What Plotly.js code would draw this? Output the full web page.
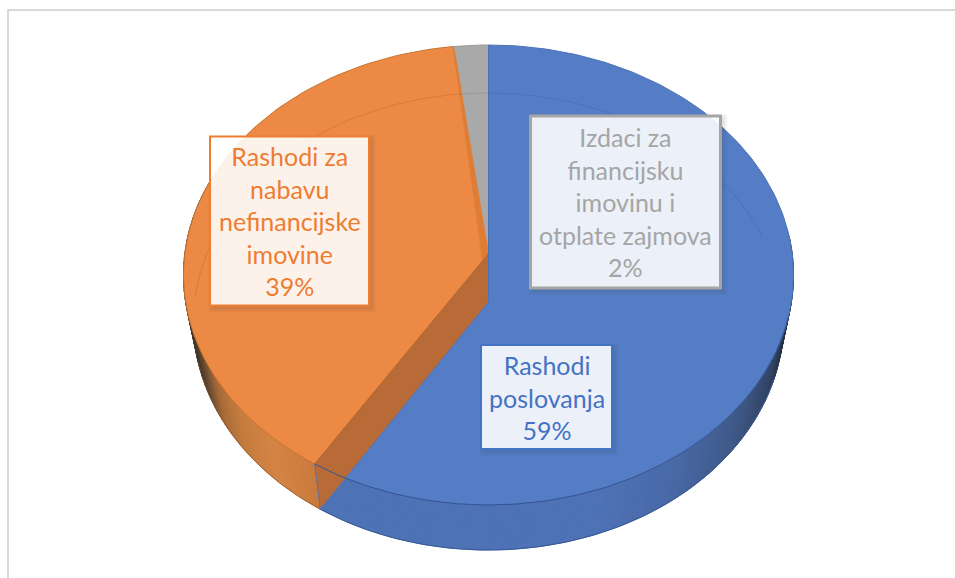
<!DOCTYPE html>
<html><head><meta charset="utf-8">
<script src="https://cdn.plot.ly/plotly-3.0.1.min.js"></script>
<style>html,body{margin:0;padding:0;background:#fff}#chart{width:955px;height:578px}</style>
</head><body><div id="chart"></div>
<script>
const categories = ["Rashodi poslovanja", "Rashodi za nabavu nefinancijske imovine", "Izdaci za financijsku imovinu i otplate zajmova"];
const values = [59, 39, 2];
const labelLines = [["Rashodi","poslovanja"],["Rashodi za","nabavu","nefinancijske","imovine"],["Izdaci za","financijsku","imovinu i","otplate zajmova"]];
const sliceColors = ["#547DC6","#EC8A45","#A9A9A9"];
const textColors = ["#4472C4","#ED7D31","#A5A5A5"];
const labelCentres = [[546.5,397],[289.5,221],[625.5,202]];
const labelSizes = [[131,104],[159,169],[190,172]];

const total = values.reduce((a,b)=>a+b,0);
const blueEnd = values[0]/total*2*Math.PI;
const orangeEnd = (values[0]+values[1])/total*2*Math.PI;
const CX=488.5, TOPY=275, RX=305, RY=230, BOTY=321.5, BRX=295, BRY=228.5, A=-0.074;
function proj(t){ // perspective view of a point on the rim, clockwise from 12 o'clock
  const u=Math.sin(t), v=-Math.cos(t), d=1+A*v;
  return [u*Math.sqrt(1-A*A)/d,(v+A)/d];
}
const top_=t=>{const p=proj(t);return [CX+RX*p[0],TOPY+RY*p[1]];};
const bot=t=>{const p=proj(t);return [CX+BRX*p[0],BOTY+BRY*p[1]];};
const span=(a,b,n)=>Array.from({length:n+1},(_,i)=>a+(b-a)*i/n);
const apex=[CX,258];
const apexLow=[CX,302];
const blueFoot=bot(blueEnd);
function side(p){
  return (blueFoot[0]-apexLow[0])*(p[1]-apexLow[1])-(blueFoot[1]-apexLow[1])*(p[0]-apexLow[0]);
}
// where the top rim crosses the lower edge of the radial wall
let lo=Math.PI, hi=blueEnd;
const sLo=side(top_(lo));
for(let i=0;i<40;i++){const m=(lo+hi)/2; if(side(top_(m))*sLo>0) lo=m; else hi=m;}
const tCut=lo;
const traces=[];
function poly(pts,fill,line,lw){
  traces.push({type:"scatter",mode:"lines",x:pts.map(p=>p[0]),y:pts.map(p=>p[1]),fill:"toself",fillcolor:fill,
    line:{color:line||fill,width:lw===undefined?1:lw},hoverinfo:"skip",showlegend:false});
}
function stroke(pts,color,w){
  traces.push({type:"scatter",mode:"lines",x:pts.map(p=>p[0]),y:pts.map(p=>p[1]),line:{color:color,width:w},hoverinfo:"skip",showlegend:false});
}
function colour(stops,x){
  if(x<=stops[0][0])return "rgb("+stops[0][1].join(",")+")";
  for(let i=1;i<stops.length;i++){ if(x<=stops[i][0]){
    const f=(x-stops[i-1][0])/(stops[i][0]-stops[i-1][0]);
    return "rgb("+stops[i-1][1].map((v,k)=>Math.round(v+(stops[i][1][k]-v)*f)).join(",")+")"; } }
  return "rgb("+stops[stops.length-1][1].join(",")+")";
}
const orangeRamp=[[192,[70,55,40]],[203,[110,78,50]],[215,[165,105,55]],[235,[195,122,62]],[270,[212,132,68]],[300,[205,125,62]],[320,[198,120,60]]];
const blueRamp=[[320,[78,114,182]],[600,[78,114,182]],[680,[72,104,165]],[740,[62,88,135]],[775,[50,68,100]],[790,[38,50,72]]];

// orange outer wall
const ow=span(blueEnd,1.62*Math.PI,70);
for(let i=0;i<ow.length-1;i++){
  const a=ow[i],b=ow[i+1];
  poly([top_(a),top_(b),bot(b),bot(a),top_(a)],colour(orangeRamp,(top_(a)[0]+top_(b)[0])/2));
}
// orange top face
poly([apex].concat(span(blueEnd,orangeEnd,80).map(top_),[apex]),sliceColors[1],"#C8732F",1);
// grey top face
poly([apex].concat(span(orangeEnd,2*Math.PI,10).map(top_),[apex]),sliceColors[2],"#9A9A9A",1);
// radial strip of the orange slice next to the grey slice
const ot=top_(orangeEnd);
poly([ot,[ot[0]+2,ot[1]+6],[CX,253],[CX-6,261],ot],"#E07D35","#E07D35",0.5);
// radial wall of the orange slice
const ofoot=top_(blueEnd);
poly([[CX,253],[CX-6,261],ofoot,blueFoot,apexLow,[CX,253]],"#B96B37");
stroke([ofoot,blueFoot],"#66709A",1);
stroke([[CX-6,261],ofoot],"#B8692F",1);
// blue wall
const cut=top_(tCut);
poly([cut].concat(span(tCut,blueEnd,10).map(bot),[cut]),colour(blueRamp,330));
const bw=span(tCut,0.47*Math.PI,150);
for(let i=0;i<bw.length-1;i++){
  const a=bw[i],b=bw[i+1];
  poly([top_(a),top_(b),bot(b),bot(a),top_(a)],colour(blueRamp,(top_(a)[0]+top_(b)[0])/2));
}
// blue top face
const blueArc=span(0,tCut,200).map(top_);
poly(blueArc.concat([apexLow,blueArc[0]]),sliceColors[0],"#4A72B8",1);
// rim lines
stroke(span(blueEnd,0.58*Math.PI,120).map(top_),"#35558F",1);
stroke(span(blueEnd,0.60*Math.PI,120).map(bot),"#3A5A95",1);
stroke(span(blueEnd,1.42*Math.PI,60).map(bot),"rgba(130,80,40,0.6)",1);
// base ellipse seen through the top face
stroke(span(0,0.40*Math.PI,60).map(bot),"rgba(50,70,130,0.22)",1);
stroke(span(1.51*Math.PI,orangeEnd,70).map(bot),"rgba(190,95,35,0.40)",1);
stroke(span(orangeEnd,2*Math.PI,6).map(bot),"rgba(90,90,90,0.22)",1);

// frame and label boxes
const shapes=[
  {type:"line",xref:"x",yref:"y",x0:8,x1:8,y0:9,y1:578,line:{color:"#D9D9D9",width:2},layer:"below"},
  {type:"line",xref:"x",yref:"y",x0:7,x1:955,y0:10,y1:10,line:{color:"#D9D9D9",width:2},layer:"below"}
];
const annotations=[];
function strip(x0,x1,y0,y1,fill){
  shapes.push({type:"rect",xref:"x",yref:"y",x0,x1,y0,y1,fillcolor:fill,line:{width:0},layer:"above"});
}
categories.forEach((c,i)=>{
  const [cx,cy]=labelCentres[i],[w,h]=labelSizes[i];
  const L=cx-w/2,R=cx+w/2,T=cy-h/2,B=cy+h/2;
  for(let s=1;s<=5;s++){
    const f="rgba(50,50,50,0.03)";
    strip(R,R+s+2,T-s+3,B+s+2,f);
    strip(L-s+3,R,B,B+s+2,f);
  }
  strip(L,R,T,B,"rgba(255,255,255,0.89)");
  shapes.push({type:"rect",xref:"x",yref:"y",x0:L,x1:R,y0:T,y1:B,
    fillcolor:"rgba(0,0,0,0)",line:{color:textColors[i],width:i===2?3:2},layer:"above"});
  annotations.push({xref:"x",yref:"y",x:cx,y:cy,xanchor:"center",yanchor:"middle",showarrow:false,align:"center",
    text:labelLines[i].concat([values[i]+"%"]).join("<br>"),
    font:{family:"Lato, 'Open Sans', sans-serif",size:25,color:textColors[i]}});
});

Plotly.newPlot("chart",traces,{
  width:955,height:578,margin:{l:0,r:0,t:0,b:0},
  paper_bgcolor:"#fff",plot_bgcolor:"#fff",showlegend:false,hovermode:false,
  xaxis:{range:[0,955],visible:false,fixedrange:true},
  yaxis:{range:[578,0],visible:false,fixedrange:true},
  shapes:shapes,annotations:annotations
},{staticPlot:true,displayModeBar:false});
</script></body></html>
